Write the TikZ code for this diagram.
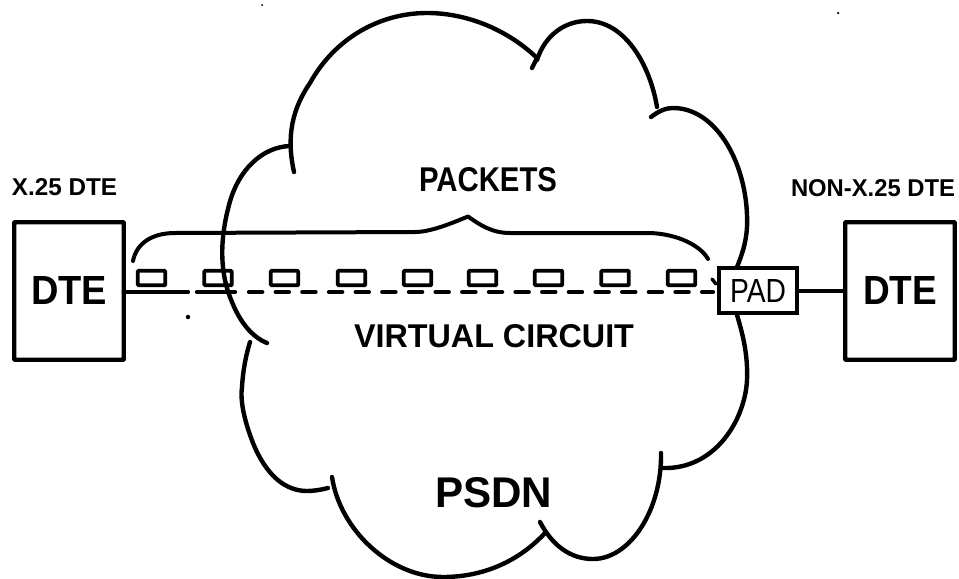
\documentclass[tikz,border=0pt]{standalone}
\usepackage{graphicx}
\usepackage{fontspec}
\setmainfont{Liberation Sans}
\newdimen\pxu \pxu=0.75pt
\newcommand{\fitlabel}[3]{\resizebox{#1\pxu}{#2\pxu}{#3}}
\tikzset{
  cloudline/.style={line width=4.4\pxu,line cap=round,line join=round},
  bracketline/.style={line width=4\pxu,line cap=round,line join=round},
  termbox/.style={draw=black,fill=white,line width=4.4\pxu,rectangle,inner sep=0pt,outer sep=0pt,minimum width=109.5\pxu,minimum height=137.5\pxu,rounded corners=0.8\pxu},
  padbox/.style={draw=black,fill=white,line width=4.4\pxu,rectangle,inner sep=0pt,outer sep=0pt,minimum width=77.5\pxu,minimum height=44.5\pxu},
  packetbox/.style={draw=black,line width=3.6\pxu,rectangle,inner sep=0pt,outer sep=0pt,minimum width=27.5\pxu,minimum height=14.5\pxu,rounded corners=0.8\pxu},
  labeltext/.style={inner sep=0pt,outer sep=0pt,text=black},
  circuitline/.style={line width=4.2\pxu,line cap=round},
  speck/.style={fill=black,draw=none,circle,inner sep=0pt,outer sep=0pt},
}
\begin{document}
\begin{tikzpicture}[x=0.75pt,y=-0.75pt]
\useasboundingbox (0,0) rectangle (959,578);
% cloud strokes
\draw[cloudline] (290,146) .. controls (262,147) and (238,170) .. (229,205) .. controls (221,235) and (218,270) .. (232,302) .. controls (240,322) and (252,337) .. (267,343);
\draw[cloudline] (294,172) .. controls (288,145) and (288,115) .. (310,83) .. controls (335,38) and (380,13) .. (427,13) .. controls (470,13) and (510,32) .. (537,58) -- (532,68);
\draw[cloudline] (537,60) .. controls (545,35) and (565,21) .. (587,21) .. controls (625,21) and (650,65) .. (657,107);
\draw[cloudline] (651,117) .. controls (660,110) and (667,108) .. (673,108) .. controls (715,108) and (745,160) .. (747,215) .. controls (748,235) and (744,250) .. (737,267);
\draw[cloudline] (737,315) .. controls (743,335) and (748,355) .. (747,380) .. controls (745,420) and (715,470) .. (662,468);
\draw[cloudline] (661,453) .. controls (662,510) and (630,559) .. (593,559) .. controls (570,559) and (552,545) .. (540,522);
\draw[cloudline] (545,533) .. controls (520,560) and (485,577) .. (443,577) .. controls (390,577) and (340,530) .. (332,477);
\draw[cloudline] (328,488) .. controls (320,490) and (313,491) .. (307,491) .. controls (285,491) and (266,475) .. (253,443) .. controls (244,420) and (240,400) .. (242,387) .. controls (243,370) and (246,355) .. (250,342);
% boxes
\node[termbox] (ldte) at (69,291) {\raisebox{2\pxu}{\fitlabel{76}{28}{\textbf{DTE}}}};
\node[termbox] (rdte) at (900,291) {\raisebox{2\pxu}{\fitlabel{74}{28}{\textbf{DTE}}}};
\node[padbox] (pad) at (758,290.5) {\raisebox{-1\pxu}{\fitlabel{56}{23}{PAD}}};
% connectors
\coordinate (solidend) at (188,292);
\coordinate (secondstart) at (197,292);
\coordinate (secondend) at (235,292);
\coordinate (dashstart) at (249,292);
\coordinate (dashend) at (713,292);
\draw[circuitline] (ldte.east |- solidend) -- (solidend);
\draw[circuitline] (secondstart) -- (secondend);
\draw[circuitline,dash pattern=on 13.3\pxu off 13.35\pxu] (dashstart) -- (dashend);
\draw[line width=4.4\pxu] (pad.east |- rdte) -- (rdte.west);
\draw[line width=3.4\pxu,line cap=round] (712,279) -- (716,284);
% packets
\foreach \nm/\cx in {a/151.5,b/218,c/284.5,d/351.5,e/417.5,f/482.5,g/548.5,h/615,i/681.5}
  \node[packetbox] (pkt\nm) at (\cx,278) {};
% bracket
\draw[bracketline] (133,261) .. controls (136,245) and (150,233) .. (175,233) -- (415,232) .. controls (430,232) and (450,224) .. (468,216.5) .. controls (480,225) and (492,233) .. (510,233) -- (650,233) .. controls (677,234) and (700,245) .. (708,259);
% labels
\node[labeltext] (xdte) at (64.5,187) {\fitlabel{105}{17}{\textbf{X.25 DTE}}};
\node[labeltext] (nondte) at (873,188) {\fitlabel{164}{17}{\textbf{NON-X.25 DTE}}};
\node[labeltext] (packets) at (488,180) {\fitlabel{138}{24}{\textbf{PACKETS}}};
\node[labeltext] (vc) at (494,336) {\fitlabel{280}{23}{\textbf{VIRTUAL CIRCUIT}}};
\node[labeltext] (psdn) at (493.5,493) {\fitlabel{117}{30}{\textbf{PSDN}}};
% specks
\node[speck,minimum size=4.5\pxu] (s1) at (188,317) {};
\node[speck,minimum size=2\pxu] (s2) at (262,5) {};
\node[speck,minimum size=2.5\pxu] (s3) at (838,13) {};
\end{tikzpicture}
\end{document}
